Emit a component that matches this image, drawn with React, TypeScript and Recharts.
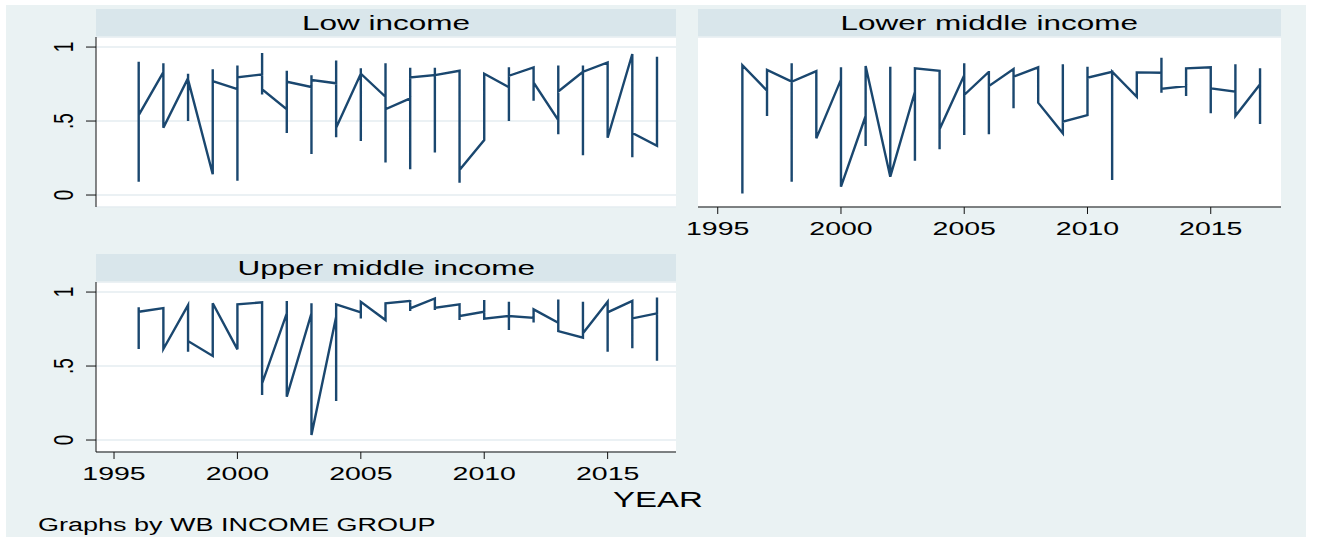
import React from "react";
import { LineChart, Line, XAxis, YAxis, CartesianGrid } from "recharts";

// one group of values per year, in the order the line passes through them
const years = [
  1996, 1997, 1998, 1999, 2000, 2001, 2002, 2003, 2004, 2005, 2006,
  2007, 2008, 2009, 2010, 2011, 2012, 2013, 2014, 2015, 2016, 2017,
];

const lowIncome: number[][] = [
  [0.66, 0.9, 0.09, 0.54],
  [0.83, 0.89, 0.455],
  [0.79, 0.82, 0.5, 0.78],
  [0.14, 0.85, 0.77],
  [0.716, 0.876, 0.097, 0.795],
  [0.815, 0.96, 0.68, 0.714],
  [0.58, 0.42, 0.84, 0.766],
  [0.73, 0.277, 0.81, 0.777],
  [0.755, 0.91, 0.39, 0.455],
  [0.82, 0.856, 0.365, 0.82],
  [0.664, 0.89, 0.22, 0.58],
  [0.653, 0.174, 0.86, 0.795],
  [0.81, 0.288, 0.86, 0.81],
  [0.84, 0.083, 0.169],
  [0.372, 0.6, 0.82],
  [0.728, 0.5, 0.863, 0.806],
  [0.863, 0.637, 0.76],
  [0.507, 0.41, 0.876, 0.7],
  [0.833, 0.268, 0.876, 0.833],
  [0.896, 0.387],
  [0.953, 0.255, 0.42],
  [0.333, 0.935, 0.6],
];

const lowerMiddleIncome: number[][] = [
  [0.011, 0.878],
  [0.705, 0.534, 0.845],
  [0.766, 0.89, 0.09, 0.766],
  [0.838, 0.383],
  [0.78, 0.863, 0.056],
  [0.534, 0.331, 0.872],
  [0.124, 0.867, 0.124],
  [0.698, 0.232, 0.856],
  [0.84, 0.31, 0.444],
  [0.81, 0.89, 0.405, 0.676],
  [0.833, 0.838, 0.41, 0.736],
  [0.851, 0.586, 0.8],
  [0.863, 0.624],
  [0.417, 0.883, 0.495],
  [0.54, 0.867, 0.793],
  [0.833, 0.101, 0.833],
  [0.664, 0.829],
  [0.826, 0.928, 0.691, 0.718],
  [0.736, 0.669, 0.856],
  [0.863, 0.552, 0.721],
  [0.698, 0.883, 0.534],
  [0.748, 0.856, 0.48],
];

const upperMiddleIncome: number[][] = [
  [0.615, 0.897, 0.867],
  [0.892, 0.615],
  [0.912, 0.597, 0.669],
  [0.568, 0.75, 0.924],
  [0.613, 0.917],
  [0.93, 0.304, 0.383],
  [0.856, 0.939, 0.293],
  [0.856, 0.924, 0.034],
  [0.833, 0.264, 0.917],
  [0.863, 0.822, 0.934],
  [0.811, 0.924],
  [0.94, 0.946, 0.872, 0.89],
  [0.957, 0.878, 0.894],
  [0.917, 0.811, 0.838],
  [0.867, 0.946, 0.82],
  [0.838, 0.934, 0.743, 0.838],
  [0.826, 0.795, 0.883],
  [0.793, 0.95, 0.736],
  [0.691, 0.934, 0.721],
  [0.934, 0.597, 0.863],
  [0.94, 0.62, 0.822],
  [0.856, 0.964, 0.536],
];

const xTicks = [1995, 2000, 2005, 2010, 2015];
const yTicks = [0, 0.5, 1];
const yTickLabels = ["0", ".5", "1"];

const FONT = "'Liberation Sans', Arial, sans-serif";
const NAVY = "#1a476f";
const BG = "#eaf2f3";
const BAR = "#d9e6eb";
const GRID = "#e4edf0";

const toPoints = (groups: number[][]) =>
  years.flatMap((yr, i) => groups[i].map((v) => ({ year: yr, value: v })));

function XTick(props: any) {
  const { x, y, payload } = props;
  return (
    <g transform={`translate(${x},${y + 12}) scale(1.5,1)`}>
      <text x={0} y={0} dy="0.36em" textAnchor="middle" fontSize={19} fontFamily={FONT} fill="#000">
        {payload.value}
      </text>
    </g>
  );
}

function YTick(props: any) {
  const { x, y, payload } = props;
  const label = yTickLabels[yTicks.indexOf(payload.value)];
  return (
    <g transform={`translate(${x - 21},${y}) scale(1.5,1) rotate(-90)`}>
      <text x={0} y={0} dy="0.36em" textAnchor="middle" fontSize={19} fontFamily={FONT} fill="#000">
        {label}
      </text>
    </g>
  );
}

function TitleBar({ text, left, top, width }: { text: string; left: number; top: number; width: number }) {
  return (
    <div
      style={{
        position: "absolute",
        left,
        top,
        width,
        height: 27,
        background: BAR,
        display: "flex",
        alignItems: "center",
        justifyContent: "center",
      }}
    >
      <span style={{ fontFamily: FONT, fontSize: 21, color: "#000", transform: "scaleX(1.5)", lineHeight: "27px" }}>
        {text}
      </span>
    </div>
  );
}

function Panel({
  groups,
  left,
  top,
  width,
  height,
  margin,
  showY,
  showX,
  xDomain,
}: {
  groups: number[][];
  left: number;
  top: number;
  width: number;
  height: number;
  margin: { top: number; right: number; bottom: number; left: number };
  showY: boolean;
  showX: boolean;
  xDomain: [number, number];
}) {
  return (
    <div style={{ position: "absolute", left, top }}>
      <LineChart width={width} height={height} data={toPoints(groups)} margin={margin}>
        <CartesianGrid vertical={false} stroke={GRID} strokeWidth={1.5} fill="#fff" />
        <XAxis
          type="number"
          dataKey="year"
          domain={xDomain}
          allowDataOverflow
          ticks={xTicks}
          interval={0}
          hide={!showX}
          height={30}
          tickSize={7}
          stroke="#111"
          tick={<XTick />}
        />
        <YAxis
          type="number"
          dataKey="value"
          domain={[-0.081, 1.068]}
          allowDataOverflow
          ticks={yTicks}
          interval={0}
          width={showY ? 96 : 0}
          axisLine={showY ? { stroke: "#111" } : false}
          tickLine={showY ? { stroke: "#111" } : false}
          tickSize={10}
          tick={showY ? <YTick /> : false}
        />
        <Line
          type="linear"
          dataKey="value"
          stroke={NAVY}
          strokeWidth={2.4}
          dot={false}
          activeDot={false}
          isAnimationActive={false}
        />
      </LineChart>
    </div>
  );
}

export default function App() {
  return (
    <div style={{ position: "absolute", left: 0, top: 0, width: 1317, height: 537, background: "#fff" }}>
      <div style={{ position: "absolute", left: 6, top: 5, width: 1300, height: 532, background: BG }} />

      <Panel
        groups={lowIncome}
        left={0}
        top={0}
        width={690}
        height={240}
        margin={{ top: 37, right: 14, bottom: 33, left: 0 }}
        showY
        showX={false}
        xDomain={[1994.27, 2017.77]}
      />
      <TitleBar text="Low income" left={96} top={9} width={580} />

      <Panel
        groups={lowerMiddleIncome}
        left={676}
        top={0}
        width={641}
        height={245}
        margin={{ top: 37, right: 36, bottom: 8, left: 22 }}
        showY={false}
        showX
        xDomain={[1994.2, 2017.85]}
      />
      <TitleBar text="Lower middle income" left={698} top={9} width={583} />

      <Panel
        groups={upperMiddleIncome}
        left={0}
        top={245}
        width={690}
        height={292}
        margin={{ top: 37, right: 14, bottom: 55, left: 0 }}
        showY
        showX
        xDomain={[1994.27, 2017.77]}
      />
      <TitleBar text="Upper middle income" left={96} top={254} width={580} />

      <div
        style={{
          position: "absolute",
          left: 658,
          top: 500,
          transform: "translate(-50%, -50%) scaleX(1.5)",
          fontFamily: FONT,
          fontSize: 22,
          color: "#000",
          whiteSpace: "nowrap",
        }}
      >
        YEAR
      </div>
      <div
        style={{
          position: "absolute",
          left: 38,
          top: 525,
          transform: "translateY(-50%) scaleX(1.5)",
          transformOrigin: "left center",
          fontFamily: FONT,
          fontSize: 18,
          color: "#000",
          whiteSpace: "nowrap",
        }}
      >
        Graphs by WB INCOME GROUP
      </div>
    </div>
  );
}
